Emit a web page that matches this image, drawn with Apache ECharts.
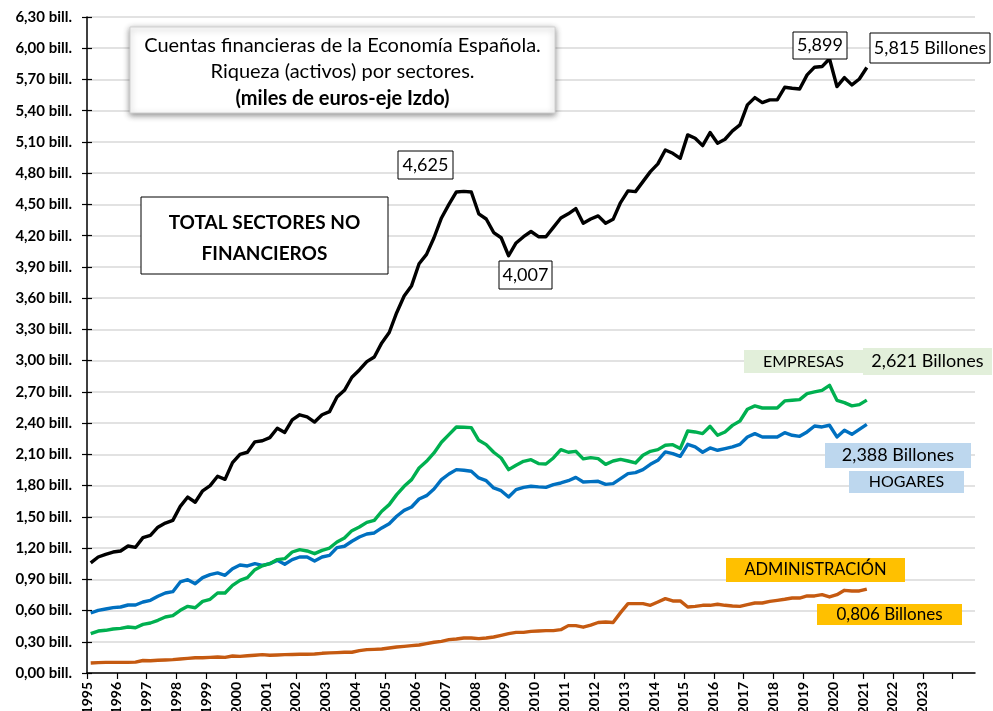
<!DOCTYPE html>
<html>
<head>
<meta charset="utf-8">
<script src="https://cdn.jsdelivr.net/npm/echarts@6/dist/echarts.min.js"></script>
<style>
  html, body { margin: 0; padding: 0; background: #fff; }
  #chart { width: 993px; height: 711px; }
</style>
</head>
<body>
<div id="chart"></div>
<script>
// quarterly periods, 1995-T1 .. 2021-T1 (105 points)
const firstYear = 1995
const numPoints = 105
const periods = []
for (let i = 0; i < numPoints; i++) {
    periods.push({ year: firstYear + Math.floor(i / 4), q: (i % 4) + 1 })
}

// year tick labels on the x axis
const yearLabels = ['1995', '1996', '1997', '1998', '1999', '2000', '2001', '2002', '2003', '2004',
    '2005', '2006', '2007', '2008', '2009', '2010', '2011', '2012', '2013', '2014',
    '2015', '2016', '2017', '2018', '2019', '2020', '2021', '2022', '2023']

// billones de euros
const totalNoFin = [1.057, 1.114, 1.14, 1.162, 1.172, 1.22, 1.207, 1.30, 1.322, 1.40,
    1.44, 1.466, 1.60, 1.69, 1.64, 1.75, 1.80, 1.89, 1.86, 2.02,
    2.10, 2.12, 2.22, 2.23, 2.26, 2.35, 2.31, 2.43, 2.48, 2.46,
    2.41, 2.48, 2.51, 2.65, 2.715, 2.84, 2.91, 2.99, 3.035, 3.17,
    3.27, 3.46, 3.62, 3.72, 3.93, 4.02, 4.18, 4.37, 4.50, 4.62,
    4.625, 4.62, 4.41, 4.36, 4.23, 4.18, 4.007, 4.13, 4.19, 4.24,
    4.19, 4.19, 4.28, 4.37, 4.41, 4.46, 4.32, 4.36, 4.39, 4.32,
    4.357, 4.518, 4.63, 4.623, 4.719, 4.815, 4.889, 5.023, 4.991, 4.943,
    5.168, 5.136, 5.065, 5.19, 5.088, 5.126, 5.206, 5.264, 5.456, 5.526,
    5.478, 5.504, 5.504, 5.625, 5.616, 5.609, 5.744, 5.818, 5.824, 5.899,
    5.632, 5.718, 5.648, 5.705, 5.815]

const empresas = [0.378, 0.403, 0.41, 0.423, 0.429, 0.442, 0.435, 0.467, 0.48, 0.506,
    0.538, 0.551, 0.602, 0.64, 0.627, 0.688, 0.708, 0.768, 0.768, 0.842,
    0.89, 0.916, 0.992, 1.03, 1.05, 1.089, 1.098, 1.162, 1.185, 1.172,
    1.146, 1.178, 1.2, 1.258, 1.297, 1.367, 1.402, 1.447, 1.466, 1.553,
    1.617, 1.713, 1.793, 1.857, 1.969, 2.033, 2.113, 2.216, 2.289, 2.363,
    2.36, 2.356, 2.235, 2.193, 2.12, 2.065, 1.953, 1.995, 2.033, 2.049,
    2.011, 2.007, 2.065, 2.145, 2.12, 2.129, 2.056, 2.068, 2.059, 2.004,
    2.036, 2.052, 2.036, 2.017, 2.091, 2.129, 2.145, 2.187, 2.193, 2.155,
    2.324, 2.315, 2.299, 2.369, 2.283, 2.315, 2.378, 2.42, 2.533, 2.565,
    2.545, 2.545, 2.545, 2.613, 2.619, 2.625, 2.683, 2.699, 2.715, 2.763,
    2.619, 2.597, 2.565, 2.577, 2.621]

const hogares = [0.576, 0.602, 0.615, 0.628, 0.634, 0.653, 0.653, 0.682, 0.698, 0.737,
    0.768, 0.781, 0.874, 0.896, 0.858, 0.916, 0.945, 0.961, 0.938, 1.002,
    1.037, 1.028, 1.05, 1.034, 1.05, 1.082, 1.044, 1.089, 1.114, 1.114,
    1.076, 1.114, 1.13, 1.204, 1.217, 1.265, 1.306, 1.335, 1.345, 1.393,
    1.434, 1.505, 1.562, 1.594, 1.671, 1.703, 1.767, 1.857, 1.911, 1.953,
    1.947, 1.937, 1.873, 1.847, 1.777, 1.751, 1.69, 1.761, 1.783, 1.793,
    1.787, 1.783, 1.809, 1.825, 1.847, 1.879, 1.835, 1.838, 1.841, 1.812,
    1.819, 1.867, 1.915, 1.924, 1.953, 2.004, 2.043, 2.123, 2.107, 2.081,
    2.196, 2.171, 2.12, 2.161, 2.139, 2.155, 2.171, 2.196, 2.267, 2.299,
    2.267, 2.267, 2.267, 2.308, 2.283, 2.273, 2.315, 2.372, 2.363, 2.379,
    2.267, 2.331, 2.292, 2.34, 2.388]

const administracion = [0.096, 0.10, 0.102, 0.102, 0.102, 0.102, 0.104, 0.12, 0.118, 0.122,
    0.125, 0.128, 0.134, 0.14, 0.147, 0.147, 0.15, 0.154, 0.15, 0.163,
    0.16, 0.165, 0.17, 0.176, 0.17, 0.173, 0.176, 0.178, 0.18, 0.18,
    0.183, 0.189, 0.193, 0.196, 0.199, 0.199, 0.215, 0.224, 0.227, 0.23,
    0.24, 0.25, 0.256, 0.263, 0.269, 0.282, 0.295, 0.304, 0.32, 0.327,
    0.336, 0.336, 0.33, 0.336, 0.346, 0.362, 0.378, 0.39, 0.39, 0.40,
    0.403, 0.407, 0.407, 0.416, 0.455, 0.455, 0.44, 0.46, 0.485, 0.49,
    0.485, 0.58, 0.666, 0.666, 0.666, 0.65, 0.682, 0.714, 0.692, 0.692,
    0.634, 0.64, 0.65, 0.65, 0.66, 0.65, 0.644, 0.64, 0.656, 0.672,
    0.672, 0.688, 0.698, 0.708, 0.72, 0.72, 0.74, 0.74, 0.752, 0.73,
    0.752, 0.794, 0.788, 0.788, 0.806]

const FONT = 'Lato'

// each quarter is plotted at the middle of the quarter
function toPoints(values) {
    return values.map((v, i) => [periods[i].year + (periods[i].q - 0.5) / 4, v])
}

function lineSeries(name, values, color) {
    return {
        name: name,
        type: 'line',
        data: toPoints(values),
        showSymbol: false,
        symbol: 'none',
        lineStyle: { color: color, width: 3.4, join: 'round' },
        itemStyle: { color: color },
        z: 3
    }
}

// annotation box with centered lines of text
function box(x, y, w, h, fill, stroke, lines, font, shadow) {
    const children = [{
        type: 'rect',
        z: 100,
        shape: { x: 0, y: 0, width: w, height: h },
        style: Object.assign({
            fill: fill,
            stroke: stroke || null,
            lineWidth: stroke ? 1 : 0
        }, shadow ? { shadowBlur: 6, shadowColor: 'rgba(0,0,0,0.45)', shadowOffsetX: 0, shadowOffsetY: 2 } : {})
    }]
    const lh = h / lines.length
    lines.forEach((ln, i) => {
        children.push({
            type: 'text',
            z: 101,
            x: w / 2,
            y: lh * i + lh / 2 + (ln.dy || 0),
            style: {
                text: ln.text,
                fill: '#000',
                font: (ln.bold ? 'bold ' : '') + (ln.size || font) + 'px ' + FONT,
                align: 'center',
                verticalAlign: 'middle'
            }
        })
    })
    return { type: 'group', x: x, y: y, z: 100, children: children }
}

const chart = echarts.init(document.getElementById('chart'), null, { renderer: 'canvas' })

const option = {
    backgroundColor: '#fff',
    animation: false,
    textStyle: { fontFamily: FONT },
    grid: { left: 87, right: 18, top: 17, bottom: 38, containLabel: false, outerBoundsMode: 'none' },
    xAxis: {
        type: 'value',
        min: 1995,
        max: 2024.75,
        interval: 1,
        axisLine: { show: true, onZero: false, lineStyle: { color: '#000', width: 1.5 } },
        axisTick: { show: true, length: 6, lineStyle: { color: '#000', width: 1.2 } },
        splitLine: { show: false },
        axisLabel: {
            rotate: 90,
            margin: 9,
            showMaxLabel: false,
            color: '#000',
            fontWeight: 'bold',
            fontSize: 14,
            fontFamily: FONT,
            formatter: v => {
                const idx = Math.round(v) - firstYear
                return (Math.abs(v - Math.round(v)) < 1e-6 && yearLabels[idx]) ? yearLabels[idx] : ''
            }
        }
    },
    yAxis: [{
        type: 'value',
        min: 0,
        max: 6.3,
        interval: 0.3,
        axisLine: { show: true, lineStyle: { color: '#000', width: 1.5 } },
        axisTick: { show: true, length: 5, lineStyle: { color: '#000', width: 1.2 } },
        splitLine: { show: true, lineStyle: { color: '#d9d9d9', width: 1.5 } },
        axisLabel: {
            margin: 15,
            color: '#000',
            fontWeight: 'bold',
            fontSize: 15,
            fontFamily: FONT,
            formatter: v => v.toFixed(2).replace('.', ',') + ' bill.'
        }
    }, {
        // inner half of the crossing ticks
        type: 'value',
        position: 'left',
        min: 0,
        max: 6.3,
        interval: 0.3,
        axisLine: { show: false },
        axisTick: { show: true, inside: true, length: 5, lineStyle: { color: '#000', width: 1.2 } },
        splitLine: { show: false },
        axisLabel: { show: false }
    }],
    series: [
        lineSeries('Administración', administracion, '#C55A11'),
        lineSeries('Hogares', hogares, '#0070C0'),
        lineSeries('Empresas', empresas, '#00B050'),
        lineSeries('Total sectores no financieros', totalNoFin, '#000000')
    ],
    graphic: [
        box(130, 27, 425, 86, '#fff', '#d0d0d0', [
            { text: 'Cuentas financieras de la Economía Española.', dy: 4 },
            { text: 'Riqueza (activos) por sectores.', dy: 2 },
            { text: '(miles de euros-eje Izdo)', bold: true }
        ], 20, true),
        box(141, 197, 247, 77, '#fff', '#000', [
            { text: 'TOTAL SECTORES NO', bold: true, dy: 7 },
            { text: 'FINANCIEROS', bold: true, dy: -1 }
        ], 19),
        box(398, 151, 55, 28, '#fff', '#000', [{ text: '4,625' }], 18),
        box(499, 261, 53, 28, '#fff', '#000', [{ text: '4,007' }], 18),
        box(793, 32, 54, 27, '#fff', '#000', [{ text: '5,899' }], 18),
        box(870, 33, 120, 30, '#fff', '#000', [{ text: '5,815 Billones' }], 18),
        box(744, 350, 119, 23, '#E2EFDA', null, [{ text: 'EMPRESAS' }], 16),
        box(863, 348, 129, 27, '#E2EFDA', null, [{ text: '2,621 Billones' }], 18),
        box(825, 443, 146, 25, '#BDD7EE', null, [{ text: '2,388 Billones' }], 18),
        box(849, 471, 115, 22, '#BDD7EE', null, [{ text: 'HOGARES' }], 16),
        box(726, 558, 179, 24, '#FFC000', null, [{ text: 'ADMINISTRACIÓN' }], 16.5),
        box(817, 604, 145, 21, '#FFC000', null, [{ text: '0,806 Billones' }], 17)
    ]
}

chart.setOption(option)
</script>
</body>
</html>
